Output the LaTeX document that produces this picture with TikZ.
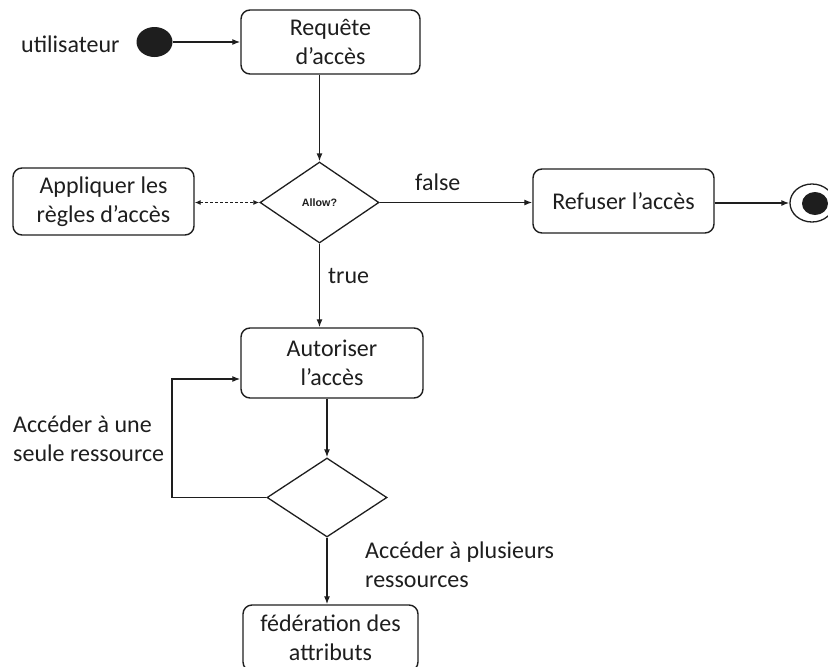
\documentclass[tikz,border=0pt]{standalone}
\usepackage{fontspec}
\setmainfont{Carlito}
\newfontfamily\tagfont{Liberation Sans}
\usetikzlibrary{shapes.geometric,arrows.meta}
\definecolor{ink}{HTML}{1E1E1E}

\begin{document}
\begin{tikzpicture}[x=1pt,y=-1pt,
  every node/.style={font=\fontsize{24}{29}\selectfont, text=ink},
  actbox/.style={draw=ink, line width=1.4pt, rounded corners=9pt, align=center, inner sep=0pt},
  choice/.style={draw=ink, line width=1.3pt, diamond, inner sep=0pt},
  flow/.style={draw=ink, line width=1.3pt, -{Latex[length=8pt,width=6pt]}},
  both/.style={draw=ink, line width=1.2pt, dash pattern=on 3pt off 2pt,
    {Latex[length=6pt,width=5pt]}-{Latex[length=6pt,width=5pt]}},
  lbl/.style={inner sep=0pt, anchor=base west},
  block/.style={inner sep=0pt, anchor=west, align=left},
]
\useasboundingbox (0,0) rectangle (828,667);
\clip (0,0) rectangle (828,667);

% activities and decisions
\node[actbox, minimum width=179pt, minimum height=64pt] (req) at (330.5,42) {Requête\\d’accès};
\node[actbox, minimum width=181pt, minimum height=67pt] (rules) at (103.5,201.5) {Appliquer les\\règles d’accès};
\node[choice, minimum width=119pt, minimum height=81pt] (allow) at (319.5,202.5)
  {\tagfont\bfseries\fontsize{10.7}{12}\selectfont Allow?};
\node[actbox, minimum width=181pt, minimum height=64pt] (deny) at (623.5,201) {Refuser l’accès};
\node[actbox, minimum width=182pt, minimum height=70pt] (grant) at (332,363) {Autoriser\\l’accès};
\node[choice, minimum width=120pt, minimum height=79pt] (scope) at (327,497.5) {};
\node[actbox, minimum width=175pt, minimum height=66pt] (fed) at (330.5,638) {fédération des\\attributs};

% initial and final states
\node[ellipse, fill=ink, minimum width=36pt, minimum height=30pt, inner sep=0pt] (start) at (154.5,42) {};
\node[ellipse, draw=ink, line width=1.3pt, minimum width=44pt, minimum height=38pt, inner sep=0pt] (stop) at (812,203) {};
\node[ellipse, fill=ink, minimum width=26pt, minimum height=23pt, inner sep=0pt] (stopdot) at (815,203.5) {};

% labels
\node[lbl] (user) at (21,52) {utilisateur};
\node[lbl] (flbl) at (415,190) {false};
\node[lbl] (tlbl) at (328,283) {true};
\node[block] (single) at (13,439) {Accéder à une\\seule ressource};
\node[block] (multi) at (365,565) {Accéder à plusieurs\\ressources};

% helper coordinates for the loop back
\coordinate (loopx) at (172,0);
\coordinate (loopy) at (0,379);

% connectors
\draw[flow] (start) -- (req);
\draw[flow] (req.south -| allow.north) -- (allow.north);
\draw[both] (rules.east |- allow.west) -- (allow.west);
\draw[flow] (allow.east) -- (deny.west |- allow.east);
\draw[flow] (deny.east |- stop.west) -- (stop.west);
\draw[flow] (allow.south) -- (allow.south |- grant.north);
\draw[flow] (grant.south -| scope.north) -- (scope.north);
\draw[flow] (scope.west) -- (scope.west -| loopx) |- (grant.west |- loopy);
\draw[flow] (scope.south) -- (scope.south |- fed.north);
\end{tikzpicture}
\end{document}
